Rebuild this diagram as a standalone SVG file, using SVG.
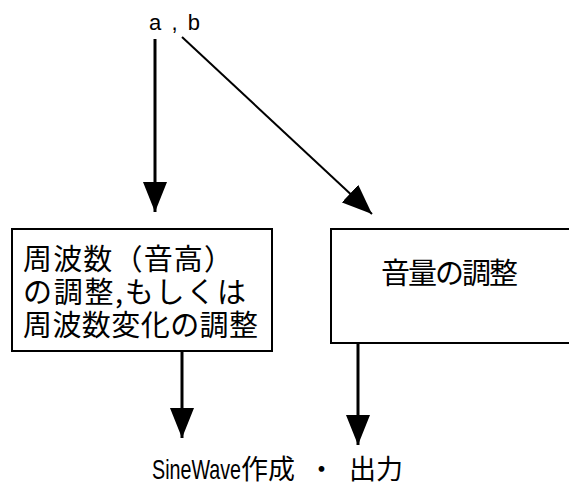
<svg xmlns="http://www.w3.org/2000/svg" width="569" height="496" viewBox="0 0 569 496">
<style>
text{font-family:"Noto Sans CJK JP","Noto Sans",sans-serif;fill:#000}
.lat{font-family:"Liberation Sans","Noto Sans CJK JP",sans-serif}
.box{fill:#fff;stroke:#000;stroke-width:2}
.c3{stroke:#000;stroke-width:3;fill:none}
.c2{stroke:#000;stroke-width:2;fill:none}
.lbl{font-size:29px}
</style>
<defs>
<marker id="ah" markerUnits="userSpaceOnUse" viewBox="0 0 30 24" refX="30" refY="12" markerWidth="30" markerHeight="24" orient="auto">
<path d="M0,0 L30,12 L0,24 Z" fill="#000"/>
</marker>
</defs>
<rect width="569" height="496" fill="#fff"/>
<g id="input">
<text class="lat" x="149" y="30" font-size="22" textLength="51" lengthAdjust="spacing">a , b</text>
</g>
<g id="freq">
<rect class="box" x="12" y="229" width="260" height="122"/>
<text class="lbl" x="23" y="270" textLength="210" lengthAdjust="spacing">周波数（音高）</text>
<text class="lbl" x="23" y="303" textLength="223" lengthAdjust="spacing">の調整,もしくは</text>
<text class="lbl" x="23" y="336" textLength="235" lengthAdjust="spacing">周波数変化の調整</text>
</g>
<g id="volume">
<rect class="box" x="331" y="229" width="244" height="114"/>
<text class="lbl" x="381" y="284" textLength="137" lengthAdjust="spacing">音量の調整</text>
</g>
<g id="output">
<text y="479" font-size="27"><tspan class="lat" x="152" font-size="28" textLength="89" lengthAdjust="spacingAndGlyphs">SineWave</tspan><tspan x="241">作成</tspan><tspan x="308">・</tspan><tspan x="349">出力</tspan></text>
</g>
<g id="connectors">
<line class="c3" x1="155" y1="39" x2="155" y2="212" marker-end="url(#ah)"/>
<line class="c2" x1="182" y1="37" x2="372" y2="214" marker-end="url(#ah)"/>
<line class="c3" x1="182" y1="351" x2="182" y2="438" marker-end="url(#ah)"/>
<line class="c3" x1="358" y1="343" x2="358" y2="445" marker-end="url(#ah)"/>
</g>
</svg>
